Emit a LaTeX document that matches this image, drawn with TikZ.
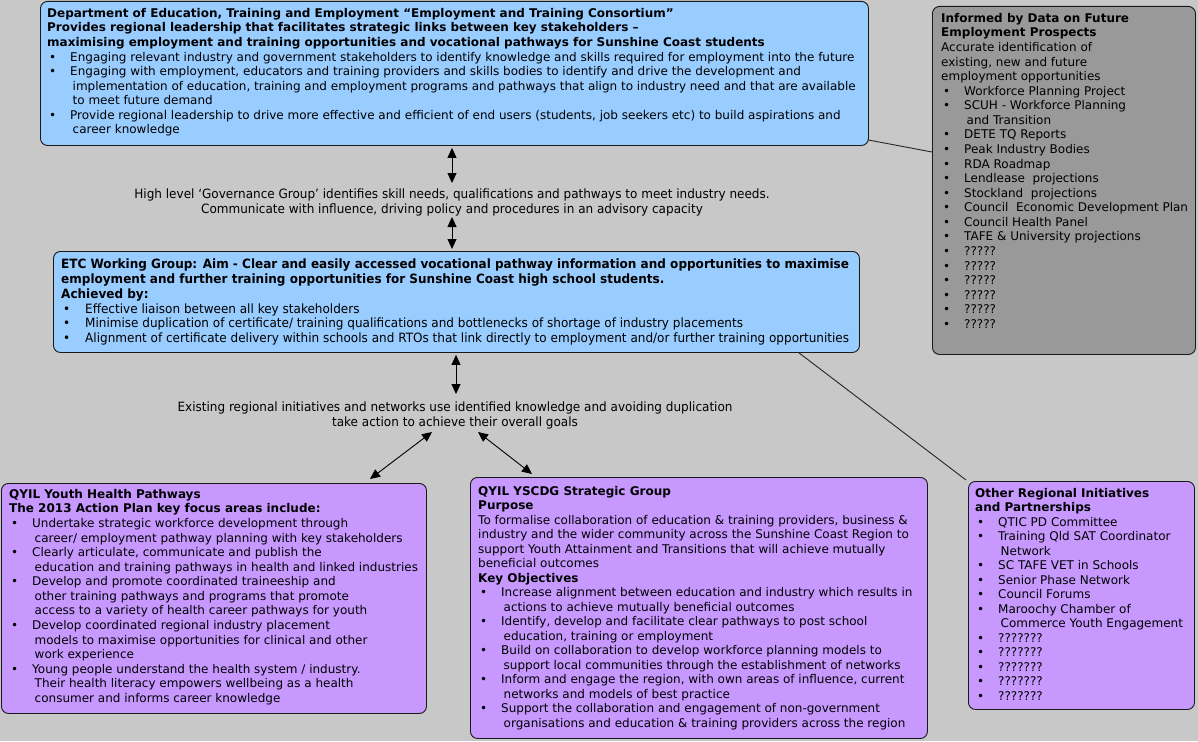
\documentclass[tikz,border=0pt]{standalone}
\usepackage{fontspec}
\setmainfont{DejaVu Sans}
\newfontfamily\condfont{DejaVu Sans}[FakeStretch=0.94]
\usetikzlibrary{arrows.meta,calc}
\definecolor{bgc}{RGB}{200,200,200}
\definecolor{bluebox}{RGB}{153,204,255}
\definecolor{graybox}{RGB}{153,153,153}
\definecolor{purplebox}{RGB}{199,153,255}
\newcommand\bu[1]{\makebox[23pt][l]{\hspace{2pt}•}#1}
\newcommand\cn[1]{\hspace*{25.5pt}#1}
\newcommand\bc[1]{\makebox[24pt][l]{\hspace{2pt}•}#1}
\tikzset{
  panel/.style={draw=black!90, line width=0.9pt, rounded corners=7pt, inner sep=0pt, anchor=north west},
  txt/.style={anchor=north west, inner sep=0pt, align=left, font=\fontsize{12}{14.57}\selectfont},
  ctxt/.style={anchor=north west, inner sep=0pt, align=left, font=\condfont\fontsize{12.8}{14.8}\selectfont},
  midtxt/.style={inner sep=1pt, align=center, font=\condfont\fontsize{12.8}{15}\selectfont},
  dbl/.style={{Triangle[width=9pt,length=10pt]}-{Triangle[width=9pt,length=10pt]}, line width=0.9pt},
  link/.style={line width=0.9pt, draw=black!85}
}
\begin{document}
\begin{tikzpicture}[x=1pt,y=-1pt]
\fill[bgc] (0,0) rectangle (1198,741);
\useasboundingbox (0,0) rectangle (1198,741);

% boxes
\node[panel, fill=bluebox, minimum width=828pt, minimum height=144pt] (dete) at (40,1) {};
\node[panel, fill=graybox, minimum width=263pt, minimum height=348pt] (data) at (932,6) {};
\node[panel, fill=bluebox, minimum width=806pt, minimum height=101pt] (etc) at (53,251) {};
\node[panel, fill=purplebox, minimum width=425pt, minimum height=230pt] (health) at (1,483) {};
\node[panel, fill=purplebox, minimum width=457pt, minimum height=261pt] (yscdg) at (470,477) {};
\node[panel, fill=purplebox, minimum width=226pt, minimum height=228pt] (other) at (968,481) {};

% texts
\node[txt] (detetxt) at (47,8) {%
\textbf{Department of Education, Training and Employment “Employment and Training Consortium”}\\
\textbf{Provides regional leadership that facilitates strategic links between key stakeholders –}\\
\textbf{maximising employment and training opportunities and vocational pathways for Sunshine Coast students}\\
\bu{Engaging relevant industry and government stakeholders to identify knowledge and skills required for employment into the future}\\
\bu{Engaging with employment, educators and training providers and skills bodies to identify and drive the development and}\\
\cn{implementation of education, training and employment programs and pathways that align to industry need and that are available}\\
\cn{to meet future demand}\\
\bu{Provide regional leadership to drive more effective and efficient of end users (students, job seekers etc) to build aspirations and}\\
\cn{career knowledge}};

\node[txt] (datatxt) at (941,13) {%
\textbf{Informed by Data on Future}\\
\textbf{Employment Prospects}\\
Accurate identification of\\
existing, new and future\\
employment opportunities\\
\bu{Workforce Planning Project}\\
\bu{SCUH - Workforce Planning}\\
\cn{and Transition}\\
\bu{DETE TQ Reports}\\
\bu{Peak Industry Bodies}\\
\bu{RDA Roadmap}\\
\bu{Lendlease\ \ projections}\\
\bu{Stockland\ \ projections}\\
\bu{Council\ \ Economic Development Plan}\\
\bu{Council Health Panel}\\
\bu{TAFE \& University projections}\\
\bu{?????}\\
\bu{?????}\\
\bu{?????}\\
\bu{?????}\\
\bu{?????}\\
\bu{?????}};

\node[ctxt] (etctxt) at (61,258.7) {%
\textbf{ETC Working Group: Aim - Clear and easily accessed vocational pathway information and opportunities to maximise}\\
\textbf{employment and further training opportunities for Sunshine Coast high school students.}\\
\textbf{Achieved by:}\\
\bc{Effective liaison between all key stakeholders}\\
\bc{Minimise duplication of certificate/ training qualifications and bottlenecks of shortage of industry placements}\\
\bc{Alignment of certificate delivery within schools and RTOs that link directly to employment and/or further training opportunities}};

\node[txt] (healthtxt) at (9,489) {%
\textbf{QYIL Youth Health Pathways}\\
\textbf{The 2013 Action Plan key focus areas include:}\\
\bu{Undertake strategic workforce development through}\\
\cn{career/ employment pathway planning with key stakeholders}\\
\bu{Clearly articulate, communicate and publish the}\\
\cn{education and training pathways in health and linked industries}\\
\bu{Develop and promote coordinated traineeship and}\\
\cn{other training pathways and programs that promote}\\
\cn{access to a variety of health career pathways for youth}\\
\bu{Develop coordinated regional industry placement}\\
\cn{models to maximise opportunities for clinical and other}\\
\cn{work experience}\\
\bu{Young people understand the health system / industry.}\\
\cn{Their health literacy empowers wellbeing as a health}\\
\cn{consumer and informs career knowledge}};

\node[txt, font=\fontsize{12}{14.5}\selectfont] (yscdgtxt) at (478,486) {%
\textbf{QYIL YSCDG Strategic Group}\\
\textbf{Purpose}\\
To formalise collaboration of education \& training providers, business \&\\
industry and the wider community across the Sunshine Coast Region to\\
support Youth Attainment and Transitions that will achieve mutually\\
beneficial outcomes\\
\textbf{Key Objectives}\\
\bu{Increase alignment between education and industry which results in}\\
\cn{actions to achieve mutually beneficial outcomes}\\
\bu{Identify, develop and facilitate clear pathways to post school}\\
\cn{education, training or employment}\\
\bu{Build on collaboration to develop workforce planning models to}\\
\cn{support local communities through the establishment of networks}\\
\bu{Inform and engage the region, with own areas of influence, current}\\
\cn{networks and models of best practice}\\
\bu{Support the collaboration and engagement of non-government}\\
\cn{organisations and education \& training providers across the region}};

\node[txt, font=\fontsize{12}{14.5}\selectfont] (othertxt) at (975,488) {%
\textbf{Other Regional Initiatives}\\
\textbf{and Partnerships}\\
\bu{QTIC PD Committee}\\
\bu{Training Qld SAT Coordinator}\\
\cn{Network}\\
\bu{SC TAFE VET in Schools}\\
\bu{Senior Phase Network}\\
\bu{Council Forums}\\
\bu{Maroochy Chamber of}\\
\cn{Commerce Youth Engagement}\\
\bu{???????}\\
\bu{???????}\\
\bu{???????}\\
\bu{???????}\\
\bu{???????}};

% middle texts
\node[midtxt] (gov) at (452,202.5) {High level ‘Governance Group’ identifies skill needs, qualifications and pathways to meet industry needs.\\
Communicate with influence, driving policy and procedures in an advisory capacity};
\node[midtxt] (ex) at (455,415.5) {Existing regional initiatives and networks use identified knowledge and avoiding duplication\\
take action to achieve their overall goals};

% connectors
\coordinate (a1s) at ($(dete.south -| 452,0)+(0,2)$);
\coordinate (a1e) at (452,183);
\draw[dbl] (a1s) -- (a1e);
\coordinate (a2s) at (452,217);
\coordinate (a2e) at ($(etc.north -| a2s)+(0,-2)$);
\draw[dbl] (a2s) -- (a2e);
\coordinate (a3s) at ($(etc.south -| 456,0)+(0,2)$);
\coordinate (a3e) at (456,394);
\draw[dbl] (a3s) -- (a3e);
\coordinate (a4s) at (432,432);
\coordinate (a4e) at ($(health.north west)+(369,-4)$);
\draw[dbl] (a4s) -- (a4e);
\coordinate (a5s) at (478,432);
\coordinate (a5e) at ($(yscdg.north west)+(62,-3)$);
\draw[dbl] (a5s) -- (a5e);

\draw[link] ($(dete.south east)+(-1,-6)$) -- ($(data.north west)+(0,146)$);
\draw[link] ($(etc.south west)+(746,0)$) -- ($(other.north west)+(-2,-1)$);
\end{tikzpicture}
\end{document}
